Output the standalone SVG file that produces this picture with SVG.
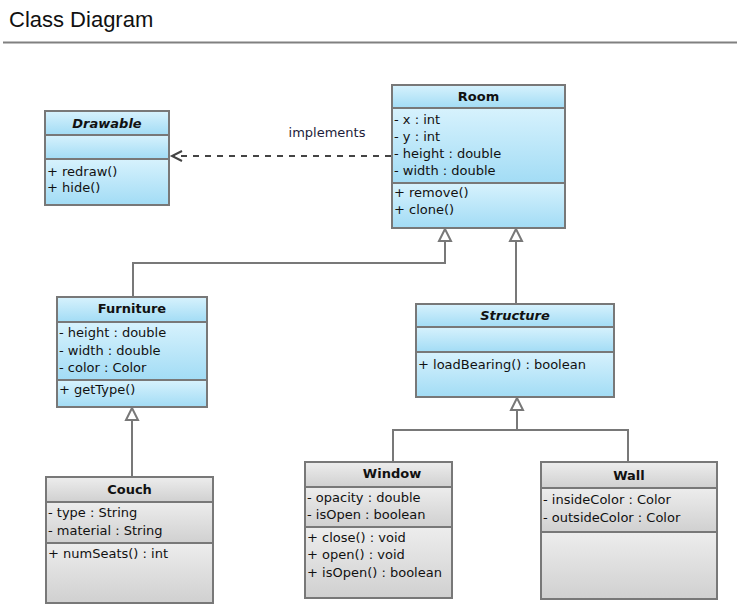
<svg xmlns="http://www.w3.org/2000/svg" width="737" height="605" viewBox="0 0 737 605">
<defs>
<linearGradient id="blue" x1="0" y1="0" x2="0" y2="1">
<stop offset="0" stop-color="#d7f2fd"/>
<stop offset="1" stop-color="#a2dcf5"/>
</linearGradient>
<linearGradient id="gray" x1="0" y1="0" x2="0" y2="1">
<stop offset="0" stop-color="#ededed"/>
<stop offset="1" stop-color="#d0d0d0"/>
</linearGradient>
<style>
.b{fill:url(#blue);stroke:#787878;stroke-width:2}
.g{fill:url(#gray);stroke:#787878;stroke-width:2}
.t{font-family:"DejaVu Sans","Liberation Sans",sans-serif;font-size:13px;fill:#111}
.h{font-family:"DejaVu Sans","Liberation Sans",sans-serif;font-size:13px;font-weight:bold;fill:#111;text-anchor:middle}
.hi{font-style:italic}
.c{fill:none;stroke:#787878;stroke-width:2}
.tri{fill:#fff;stroke:#787878;stroke-width:2;stroke-linejoin:miter}
.d{fill:none;stroke:#444;stroke-width:2;stroke-dasharray:6 6}
.a{fill:none;stroke:#444;stroke-width:2}
</style>
</defs>
<rect width="737" height="605" fill="#fff"/>
<text x="9" y="27" style="font-family:'Liberation Sans',Arial,sans-serif;font-size:22px;fill:#111">Class Diagram</text>
<line x1="3" y1="42.5" x2="737" y2="42.5" stroke="#808080" stroke-width="2"/>

<g id="connectors">
<polyline class="c" points="133,297 133,263 445,263 445,241"/>
<polygon class="tri" points="445,229 439,241 451,241"/>
<line class="c" x1="516" y1="304" x2="516" y2="241"/>
<polygon class="tri" points="516,229 510,241 522,241"/>
<line class="c" x1="132" y1="477" x2="132" y2="420"/>
<polygon class="tri" points="132,408 126,420 138,420"/>
<polyline class="c" points="393,462 393,430 628,430 628,462"/>
<line class="c" x1="517" y1="430" x2="517" y2="410"/>
<polygon class="tri" points="517,398 511,410 523,410"/>
<line class="d" x1="391" y1="156" x2="174" y2="156"/>
<polyline class="a" points="182,151 172,156 182,161"/>
<text class="t" x="327" y="137" text-anchor="middle" style="fill:#1c1c3a">implements</text>
</g>

<g id="drawable">
<rect class="b" x="45" y="111" width="124" height="24"/>
<rect class="b" x="45" y="135" width="124" height="24"/>
<rect class="b" x="45" y="159" width="124" height="46"/>
<text class="h hi" x="107" y="128">Drawable</text>
<text class="t" x="47" y="176">+ redraw()</text>
<text class="t" x="47" y="192">+ hide()</text>
</g>

<g id="room">
<rect class="b" x="392" y="85" width="173" height="23"/>
<rect class="b" x="392" y="108" width="173" height="75"/>
<rect class="b" x="392" y="183" width="173" height="45"/>
<text class="h" x="478.5" y="101">Room</text>
<text class="t" x="394" y="124">- x : int</text>
<text class="t" x="394" y="141">- y : int</text>
<text class="t" x="394" y="158">- height : double</text>
<text class="t" x="394" y="175">- width : double</text>
<text class="t" x="394" y="197">+ remove()</text>
<text class="t" x="394" y="214">+ clone()</text>
</g>

<g id="furniture">
<rect class="b" x="57" y="297" width="150" height="25"/>
<rect class="b" x="57" y="322" width="150" height="58"/>
<rect class="b" x="57" y="380" width="150" height="27"/>
<text class="h" x="132" y="313">Furniture</text>
<text class="t" x="59" y="337">- height : double</text>
<text class="t" x="59" y="355">- width : double</text>
<text class="t" x="59" y="372">- color : Color</text>
<text class="t" x="59" y="394">+ getType()</text>
</g>

<g id="structure">
<rect class="b" x="416" y="304" width="198" height="23"/>
<rect class="b" x="416" y="327" width="198" height="25"/>
<rect class="b" x="416" y="352" width="198" height="45"/>
<text class="h hi" x="515" y="320">Structure</text>
<text class="t" x="418" y="369">+ loadBearing() : boolean</text>
</g>

<g id="couch">
<rect class="g" x="46" y="477" width="167" height="25"/>
<rect class="g" x="46" y="502" width="167" height="41"/>
<rect class="g" x="46" y="543" width="167" height="60"/>
<text class="h" x="129.5" y="494">Couch</text>
<text class="t" x="48" y="517">- type : String</text>
<text class="t" x="48" y="535">- material : String</text>
<text class="t" x="48" y="558">+ numSeats() : int</text>
</g>

<g id="window">
<rect class="g" x="305" y="462" width="147" height="25"/>
<rect class="g" x="305" y="487" width="147" height="40"/>
<rect class="g" x="305" y="527" width="147" height="71"/>
<text class="h" x="392" y="478">Window</text>
<text class="t" x="307" y="502">- opacity : double</text>
<text class="t" x="307" y="519">- isOpen : boolean</text>
<text class="t" x="307" y="542">+ close() : void</text>
<text class="t" x="307" y="559">+ open() : void</text>
<text class="t" x="307" y="577">+ isOpen() : boolean</text>
</g>

<g id="wall">
<rect class="g" x="541" y="462" width="176" height="26"/>
<rect class="g" x="541" y="488" width="176" height="44"/>
<rect class="g" x="541" y="532" width="176" height="67"/>
<text class="h" x="629" y="480">Wall</text>
<text class="t" x="543" y="504">- insideColor : Color</text>
<text class="t" x="543" y="522">- outsideColor : Color</text>
</g>
</svg>
